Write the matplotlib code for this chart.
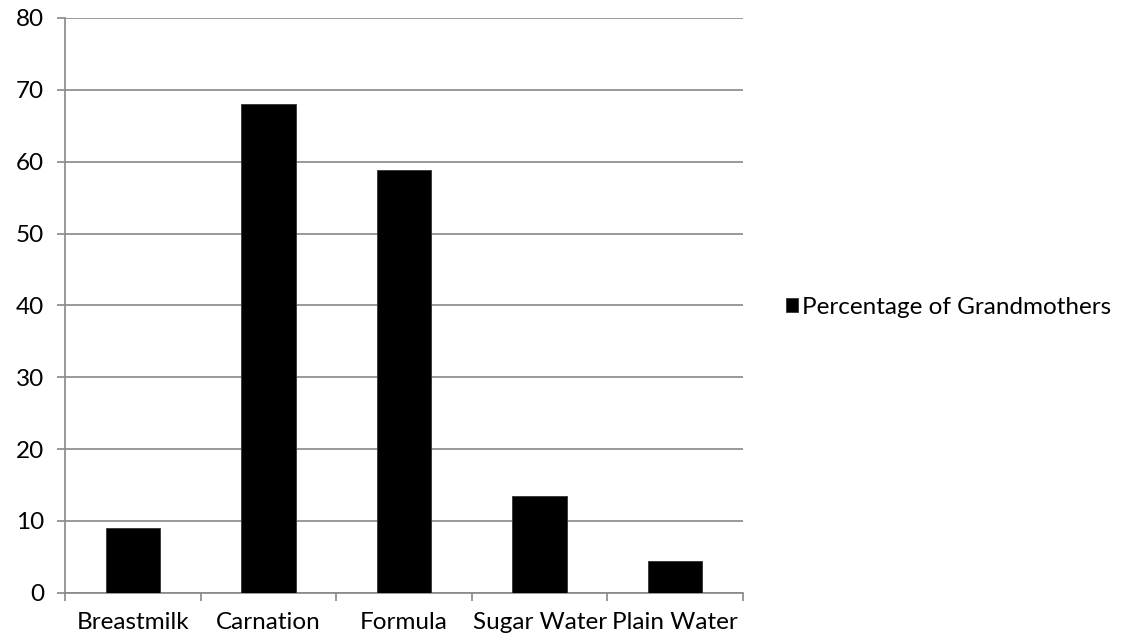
import matplotlib
matplotlib.use('Agg')
from matplotlib import pyplot as plt
import numpy as np

categories = ['Breastmilk', 'Carnation', 'Formula', 'Sugar Water', 'Plain Water']
grandmothers = [9, 68, 58.8, 13.5, 4.4]
series_name = 'Percentage of Grandmothers'

plt.rcParams['font.family'] = ['Lato', 'DejaVu Sans']
grid_col = '#888888'

fig = plt.figure(figsize=(11.23, 6.41), dpi=100)
ax = fig.add_axes([65/1123, 1-592.7/641, (743-65)/1123, (592.7-18)/641])

x = np.arange(len(categories))
ax.bar(x, grandmothers, width=0.4, color='black', edgecolor='#333333', linewidth=0.6,
       label=series_name, zorder=3)

ax.set_xlim(-0.5, len(categories)-0.5)
ax.set_ylim(0, 80)
ax.set_yticks(np.arange(0, 81, 10))
ax.yaxis.grid(True, color=grid_col, linewidth=1.2, zorder=0)
ax.tick_params(axis='y', length=6, width=1.2, color=grid_col, pad=9, labelsize=17.5)

ax.set_xticks(x)
ax.set_xticklabels(categories)
ax.set_xticks(np.arange(-0.5, len(categories), 1), minor=True)
ax.tick_params(axis='x', which='major', length=0, pad=14, labelsize=17.5)
ax.tick_params(axis='x', which='minor', length=6, width=1.2, color=grid_col)

for s in ['top', 'right']:
    ax.spines[s].set_visible(False)
for s in ['left', 'bottom']:
    ax.spines[s].set_color(grid_col)
    ax.spines[s].set_linewidth(1.2)

fig.legend(loc='center left', bbox_to_anchor=(786/1123, 1-307/641), frameon=False,
           fontsize=17.5, handlelength=0.5, handleheight=0.5, handletextpad=0.15,
           borderpad=0, borderaxespad=0)

plt.savefig('out.png', dpi=100)
